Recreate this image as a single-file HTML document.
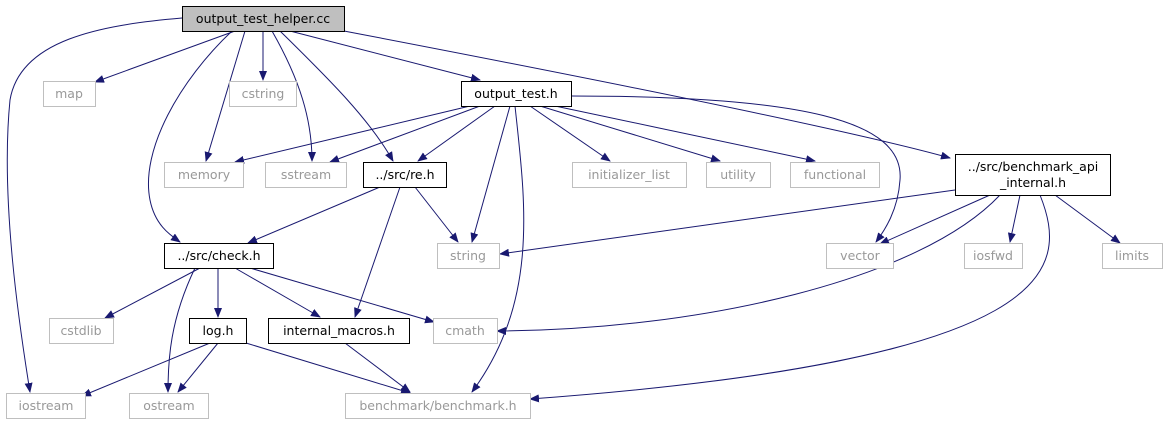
<!DOCTYPE html>
<html><head><meta charset="utf-8"><style>
body{margin:0;background:#fff}
svg{display:block}
text{font-family:"DejaVu Sans","Liberation Sans",sans-serif;font-size:12.5px;text-anchor:middle}
.g{fill:#fff;stroke:#bfbfbf;stroke-width:1}
.b{fill:#fff;stroke:#000;stroke-width:1}
.gt{fill:#999}
path{fill:none;stroke:#191970;stroke-width:1;marker-end:url(#a)}
</style></head><body>
<svg width="1168" height="425" viewBox="0 0 1168 425">
<defs><marker id="a" markerWidth="10" markerHeight="8" refX="9" refY="4" orient="auto" markerUnits="userSpaceOnUse"><polygon points="0,0 10,4 0,8" fill="#191970"/></marker></defs>
<path d="M235,31 L95,82"/>
<path d="M263,31 L263,80"/>
<path d="M290,31 L480,80"/>
<path d="M245,31 L206,161"/>
<path d="M272,31 C300,80 312,120 312,161"/>
<path d="M280,31 C330,80 370,120 393,161"/>
<path d="M232,31 C180,80 140,150 150,200 C155,225 170,235 180,242"/>
<path d="M182,18 C100,25 20,40 10,100 C0,200 20,330 30,392"/>
<path d="M344,31 C600,80 850,130 950,158"/>
<path d="M470,106 L235,162"/>
<path d="M480,106 L330,162"/>
<path d="M495,106 L418,161"/>
<path d="M510,106 L472,242"/>
<path d="M515,106 C525,200 540,300 472,392"/>
<path d="M530,106 L610,161"/>
<path d="M540,106 L720,161"/>
<path d="M555,106 L815,161"/>
<path d="M571,96 C800,96 905,120 900,180 C898,210 885,230 876,242"/>
<path d="M380,187 L248,243"/>
<path d="M415,187 L458,242"/>
<path d="M400,187 L355,317"/>
<path d="M200,268 L105,318"/>
<path d="M218,268 L218,317"/>
<path d="M235,268 L320,317"/>
<path d="M250,268 L434,322"/>
<path d="M195,268 C170,320 168,360 168,392"/>
<path d="M210,343 L82,396"/>
<path d="M218,343 L178,392"/>
<path d="M246,343 L410,393"/>
<path d="M345,343 L410,392"/>
<path d="M955,190 L500,254"/>
<path d="M990,195 L880,244"/>
<path d="M1020,195 L1010,242"/>
<path d="M1055,195 L1120,243"/>
<path d="M1000,195 C920,280 700,330 497,331"/>
<path d="M1040,195 C1070,270 1060,360 530,399"/>
<rect x="182.5" y="6.5" width="162" height="25" fill="#bfbfbf" stroke="#000"/><text x="263" y="23">output_test_helper.cc</text>
<rect class="g" x="43.5" y="81.5" width="52" height="25"/><text class="gt" x="69" y="98">map</text>
<rect class="g" x="229.5" y="81.5" width="67" height="25"/><text class="gt" x="263" y="98">cstring</text>
<rect class="b" x="461.5" y="81.5" width="110" height="25"/><text x="516" y="98">output_test.h</text>
<rect class="g" x="164.5" y="162.5" width="79" height="25"/><text class="gt" x="204" y="179">memory</text>
<rect class="g" x="265.5" y="162.5" width="81" height="25"/><text class="gt" x="306" y="179">sstream</text>
<rect class="b" x="363.5" y="162.5" width="83" height="25"/><text x="405" y="179">../src/re.h</text>
<rect class="g" x="572.5" y="162.5" width="114" height="25"/><text class="gt" x="629" y="179">initializer_list</text>
<rect class="g" x="706.5" y="162.5" width="64" height="25"/><text class="gt" x="738" y="179">utility</text>
<rect class="g" x="790.5" y="162.5" width="89" height="25"/><text class="gt" x="835" y="179">functional</text>
<rect class="b" x="955.5" y="154.5" width="155" height="41"/><text x="1033" y="171">../src/benchmark_api</text><text x="1033" y="187">_internal.h</text>
<rect class="b" x="164.5" y="243.5" width="109" height="25"/><text x="219" y="260">../src/check.h</text>
<rect class="g" x="437.5" y="243.5" width="62" height="25"/><text class="gt" x="468" y="260">string</text>
<rect class="g" x="826.5" y="243.5" width="67" height="25"/><text class="gt" x="860" y="260">vector</text>
<rect class="g" x="964.5" y="243.5" width="58" height="25"/><text class="gt" x="993" y="260">iosfwd</text>
<rect class="g" x="1102.5" y="243.5" width="60" height="25"/><text class="gt" x="1132" y="260">limits</text>
<rect class="g" x="49.5" y="318.5" width="64" height="25"/><text class="gt" x="81" y="335">cstdlib</text>
<rect class="b" x="189.5" y="318.5" width="57" height="25"/><text x="218" y="335">log.h</text>
<rect class="b" x="268.5" y="318.5" width="141" height="25"/><text x="339" y="335">internal_macros.h</text>
<rect class="g" x="433.5" y="318.5" width="64" height="25"/><text class="gt" x="465" y="335">cmath</text>
<rect class="g" x="6.5" y="393.5" width="79" height="25"/><text class="gt" x="46" y="410">iostream</text>
<rect class="g" x="129.5" y="393.5" width="79" height="25"/><text class="gt" x="169" y="410">ostream</text>
<rect class="g" x="345.5" y="393.5" width="185" height="25"/><text class="gt" x="438" y="410">benchmark/benchmark.h</text>
</svg>
</body></html>
